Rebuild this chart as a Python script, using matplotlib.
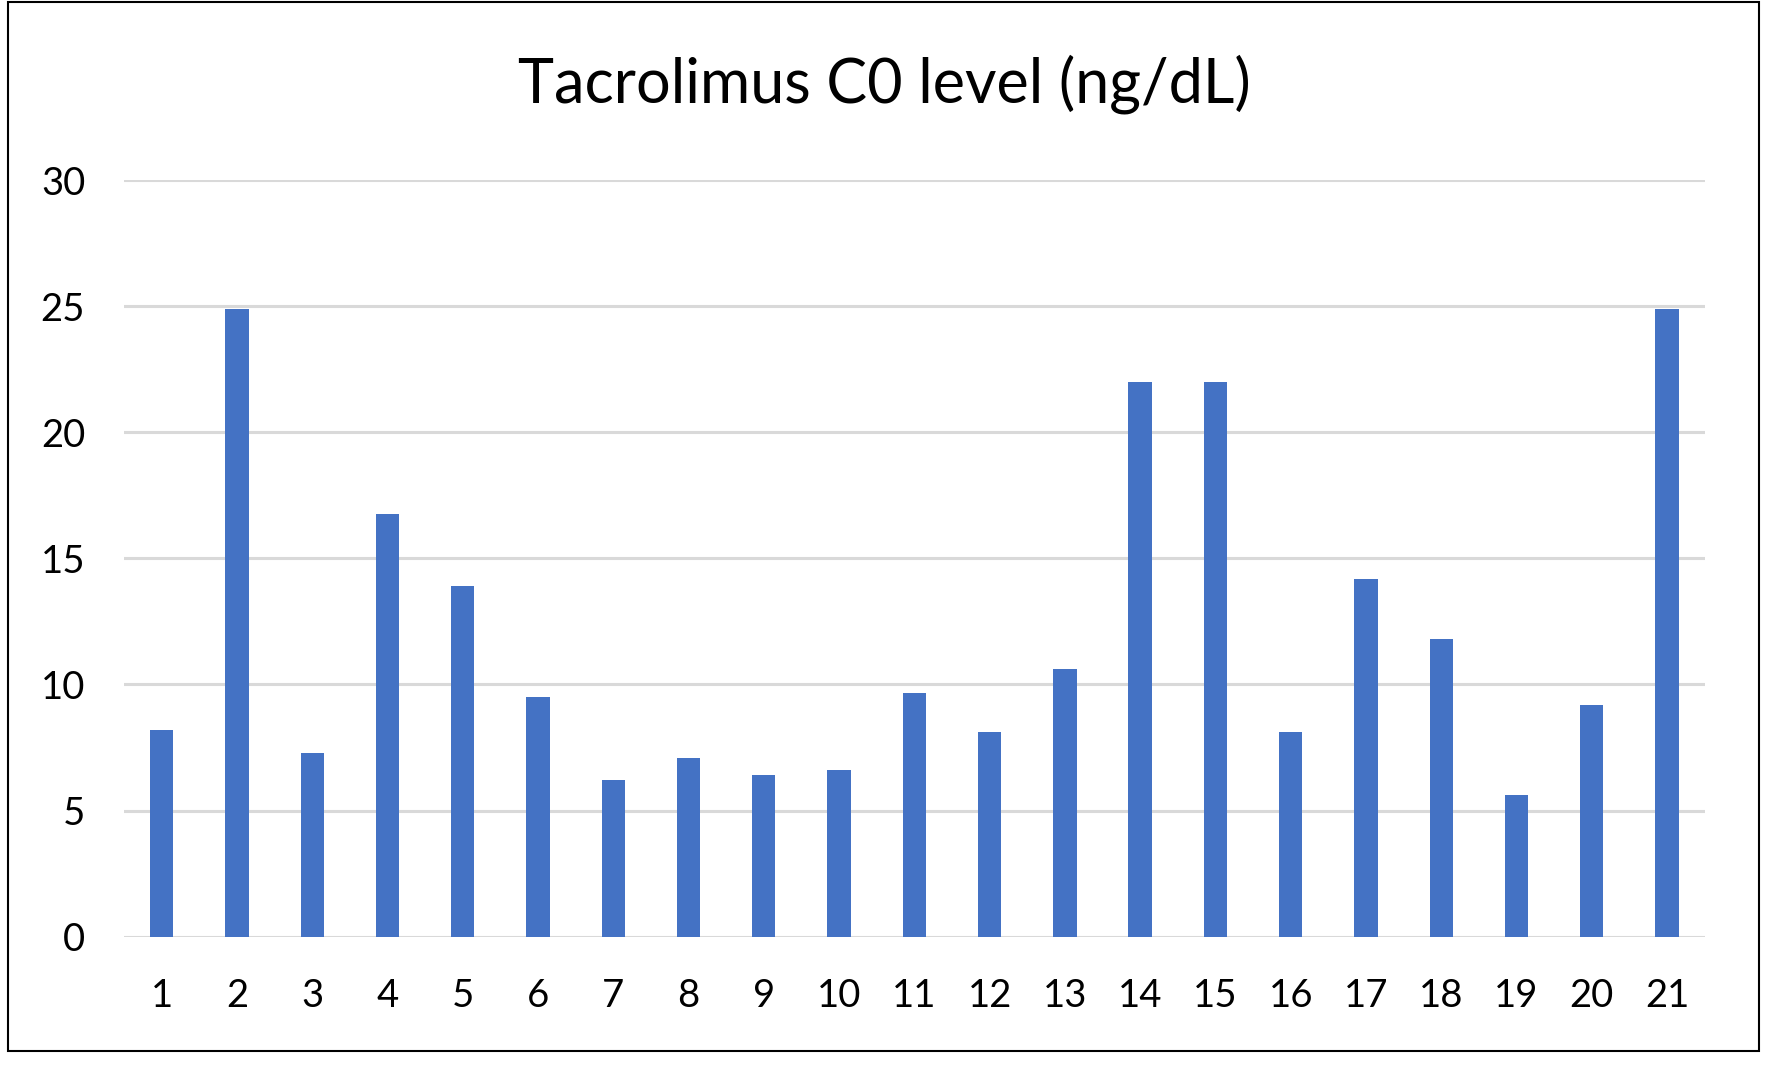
import numpy as np
import matplotlib
matplotlib.use('Agg')
import matplotlib.pyplot as plt
from matplotlib.patches import Rectangle

## DATA ---------------------------------------------------------------
patients = [str(i) for i in range(1, 22)]
c0_level = [8.2, 24.9, 7.3, 16.75, 13.9, 9.5, 6.2, 7.1, 6.4, 6.6,
            9.65, 8.1, 10.6, 22.0, 22.0, 8.1, 14.2, 11.8, 5.6, 9.2, 24.9]
y_ticks = [0, 5, 10, 15, 20, 25, 30]
title = 'Tacrolimus C0 level (ng/dL)'
## --------------------------------------------------------------------

font_type = 'Lato'
bar_color = '#4472C4'
grid_color = '#D9D9D9'

fig = plt.figure(figsize=(17.72, 10.69), dpi=100)
ax = fig.add_axes([0.070, 0.1238, 0.892, 0.7078])

x = np.arange(len(patients))
ax.bar(x, c0_level, width=0.31, color=bar_color, zorder=3)

ax.set_xlim(-0.5, len(patients) - 0.5)
ax.set_ylim(0, 30)
ax.set_yticks(y_ticks)
ax.set_xticks(x)
ax.set_xticklabels(patients)

for t in y_ticks:
    ax.axhline(t, color=grid_color, linewidth=2.2, zorder=1)

for spine in ax.spines.values():
    spine.set_visible(False)
ax.tick_params(axis='both', length=0, labelsize=27.5)
ax.tick_params(axis='x', pad=30)
ax.tick_params(axis='y', pad=28)
for lab in ax.get_xticklabels() + ax.get_yticklabels():
    lab.set_fontfamily(font_type)

fig.text(0.499, 0.921, title, fontsize=44, fontfamily=font_type,
         ha='center', va='center')

# chart border
fig.patches.append(Rectangle((8 / 1772, 18 / 1069), 1751 / 1772, 1049 / 1069,
                             transform=fig.transFigure, fill=False,
                             edgecolor='black', linewidth=1.5))

fig.savefig('out.png', dpi=100)
